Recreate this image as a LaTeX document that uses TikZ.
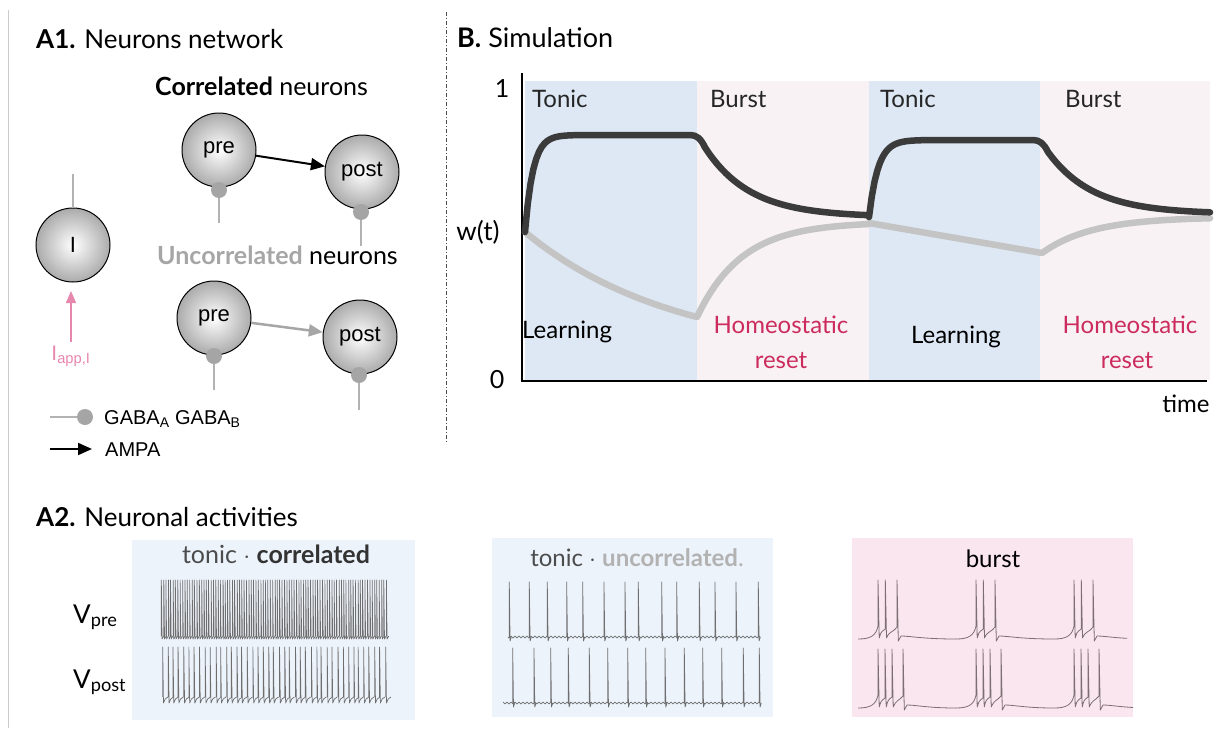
\documentclass[tikz,border=0pt]{standalone}
\usepackage{fontspec}
\setmainfont{Lato}
\newfontfamily\arial{Liberation Sans}
\usetikzlibrary{arrows.meta}
\definecolor{bandblue}{HTML}{DDE8F4}
\definecolor{bandpink}{HTML}{F8F2F4}
\definecolor{boxblue}{HTML}{EDF3FB}
\definecolor{boxpink}{HTML}{F9E6EE}
\definecolor{crimson}{HTML}{CC2B5E}
\definecolor{pinkarr}{HTML}{E687AD}
\definecolor{darkcurve}{HTML}{3B3B3B}
\definecolor{lightcurve}{HTML}{C4C4C4}
\definecolor{dotgray}{HTML}{A5A5A5}
\definecolor{tracegray}{HTML}{6E6E6E}
\definecolor{burstgray}{HTML}{7D6E73}
\newcommand\fsz[1]{\fontsize{#1}{#1}\selectfont}
\begin{document}
\begin{tikzpicture}[x=1pt,y=-1pt,
  neuron/.style={circle,draw=black,line width=1pt,minimum size=74pt,inner sep=0pt,
    shading=radial,inner color=white,outer color=black!33,font=\arial\fsz{22}},
  syndot/.style={circle,fill=dotgray,minimum size=16pt,inner sep=0pt},
  gline/.style={draw=black!30,line width=1.2pt},
  ampa/.style={line width=2pt,-{Triangle[length=14pt,width=12pt]}},
  ampagray/.style={draw=black!35,line width=2.5pt,-{Triangle[length=14pt,width=12pt]}},
  pinkarrow/.style={draw=pinkarr,line width=1.5pt,-{Triangle[length=12pt,width=10pt]}},
  lbl/.style={inner sep=0pt},
  trace/.style={draw=tracegray,line width=0.7pt,line join=round},
  btrace/.style={draw=burstgray,line width=0.8pt,line join=round},
  wcurve/.style={line width=6.5pt,line cap=round,line join=round}]
\useasboundingbox (0,0) rectangle (1218,731);
% separators
\draw[black!20,line width=1pt] (8,10) -- (8,728);
\draw[black!70,line width=0.8pt,dash pattern=on 4pt off 2pt on 1pt off 2pt] (446,12) -- (446,444);

% ---------- A1 ----------
\node[lbl,anchor=base west,font=\fsz{26}] (tA1) at (36,48) {\textbf{A1.} Neurons network};
\node[lbl,anchor=base west,font=\fsz{25}] (tcor) at (155,95) {\textbf{Correlated} neurons};
\node[lbl,anchor=base west,font=\fsz{25}] (tunc) at (157,264) {\textcolor{black!35}{\textbf{Uncorrelated}} neurons};

\node[neuron] (pre1) at (219,150) {pre};
\node[neuron] (post1) at (362,172) {post};
\draw[ampa] (pre1) -- (post1);
\node[syndot] (d1) at (219,190) {};
\coordinate (d1e) at (219,223);
\draw[gline] (d1) -- (d1e);
\node[syndot] (d2) at (361,212) {};
\coordinate (d2e) at (361,246);
\draw[gline] (d2) -- (d2e);

\node[neuron] (pre2) at (214,318) {pre};
\node[neuron] (post2) at (360,337) {post};
\draw[ampagray] (pre2) -- (post2);
\node[syndot] (d3) at (214,356) {};
\coordinate (d3e) at (214,390);
\draw[gline] (d3) -- (d3e);
\node[syndot] (d4) at (359,375) {};
\coordinate (d4e) at (359,410);
\draw[gline] (d4) -- (d4e);

\node[neuron] (I) at (73,245) {I};
\coordinate (Itop) at (73,174);
\draw[gline] (Itop) -- (I.north);
\node[lbl,anchor=base,font=\arial\fsz{21},text=pinkarr] (iapp) at (71,360) {I\textsubscript{app,I}};
\coordinate (iappb) at (71,342);
\coordinate (iappt) at (71,291);
\draw[pinkarrow] (iappb) -- (iappt);

% legend
\coordinate (lg1) at (50,417);
\node[syndot] (lgd) at (85,417) {};
\draw[gline] (lg1) -- (lgd);
\node[lbl,anchor=base west,font=\arial\fsz{20}] (lgt1) at (104,424) {GABA\textsubscript{A} GABA\textsubscript{B}};
\coordinate (lg2) at (50,449);
\coordinate (lg2e) at (92,449);
\draw[ampa] (lg2) -- (lg2e);
\node[lbl,anchor=base west,font=\arial\fsz{20}] (lgt2) at (105,456) {AMPA};

% ---------- B ----------
\node[lbl,anchor=base west,font=\fsz{27}] (tB) at (457,47) {\textbf{B.} Simulation};
\fill[bandblue] (525,81) rectangle (697,380);
\fill[bandpink] (697,81) rectangle (869,380);
\fill[bandblue] (869,81) rectangle (1040,380);
\fill[bandpink] (1040,81) rectangle (1210,380);
\draw[black,line width=1.8pt] (522,73) -- (522,381) -- (1207,381);
\node[lbl,anchor=base,font=\fsz{25}] (y1) at (502,97) {1};
\node[lbl,anchor=base,font=\fsz{25}] (y0) at (497,388) {0};
\node[lbl,anchor=base,font=\fsz{26}] (wt) at (478,240) {w(t)};
\node[lbl,anchor=base,font=\fsz{24}] (time) at (1186,412) {time};

% light curve
\draw[wcurve,lightcurve]
  plot[domain=525:697,samples=40] (\x,{232+124.6*(1-exp(-(\x-525)/150))})
  -- plot[domain=697:869,samples=40] (\x,{222+95*exp(-(\x-697)/45)})
  -- plot[domain=869:1042,samples=20] (\x,{223+30*((\x-869)/173)})
  -- plot[domain=1042:1210,samples=40] (\x,{217+36*exp(-(\x-1042)/50)});
% dark curve
\draw[wcurve,darkcurve]
  plot[domain=525:690,samples=60] (\x,{135+97*exp(-(\x-525)/8)})
  .. controls (697,135) and (701,139) .. (705,147.5)
  -- plot[domain=705:869,samples=40] (\x,{217-83*exp(-(\x-697)/45)})
  -- plot[domain=869:1033,samples=60] (\x,{140+77*exp(-(\x-869)/9)})
  .. controls (1040,140) and (1044,144) .. (1048,152)
  -- plot[domain=1048:1210,samples=40] (\x,{214-74*exp(-(\x-1040)/45)});

\node[lbl,anchor=base west,font=\fsz{24},text=black!85] (tn1) at (532,107) {Tonic};
\node[lbl,anchor=base west,font=\fsz{24},text=black!85] (bu1) at (710,107) {Burst};
\node[lbl,anchor=base west,font=\fsz{24},text=black!85] (tn2) at (880,107) {Tonic};
\node[lbl,anchor=base west,font=\fsz{24},text=black!85] (bu2) at (1065,107) {Burst};
\node[lbl,anchor=base west,font=\fsz{24}] (le1) at (522,338) {Learning};
\node[lbl,anchor=base,font=\fsz{24}] (le2) at (956,343) {Learning};
\node[lbl,anchor=base,font=\fsz{24},text=crimson] (ho1) at (781,333) {Homeostatic};
\node[lbl,anchor=base,font=\fsz{24},text=crimson] (re1) at (781,368) {reset};
\node[lbl,anchor=base,font=\fsz{24},text=crimson] (ho2) at (1130,333) {Homeostatic};
\node[lbl,anchor=base,font=\fsz{24},text=crimson] (re2) at (1127,368) {reset};

% ---------- A2 ----------
\node[lbl,anchor=base west,font=\fsz{26}] (tA2) at (36,526) {\textbf{A2.} Neuronal activities};
\fill[boxblue] (132,540) rectangle (415,720);
\fill[boxblue] (492,538) rectangle (773,717);
\fill[boxpink] (852,538) rectangle (1133,717);
\node[lbl,anchor=base,font=\fsz{25}] (bt1) at (276,563) {\textcolor{black!70}{tonic $\cdot$} \textcolor{black!80}{\textbf{correlated}}};
\node[lbl,anchor=base,font=\fsz{24}] (bt2) at (637,566) {\textcolor{black!70}{tonic $\cdot$} \textcolor{black!30}{\textbf{uncorrelated}.}};
\node[lbl,anchor=base,font=\fsz{24}] (bt3) at (993,567) {burst};
\node[lbl,anchor=base west,font=\fsz{26}] (vpre) at (73,623) {V\textsubscript{pre}};
\node[lbl,anchor=base west,font=\fsz{26}] (vpost) at (73,688) {V\textsubscript{post}};

% correlated tonic traces
\pgfmathsetseed{11}
\foreach \i [evaluate=\i as \xx using 161+\i*2.37+0.5*rnd] in {0,...,95}{
  \draw[trace] (\xx,636) -- (\xx,580) -- ({\xx+0.7},639) -- ({\xx+2.37},636);
}
\foreach \i [evaluate=\i as \xx using 162+\i*5.3+1.2*rnd] in {0,...,42}{
  \draw[trace] (\xx,697) -- (\xx,647) -- ({\xx+0.8},703) -- ({\xx+2.5},699) -- ({\xx+5.3},697);
}

% uncorrelated tonic traces
\draw[trace] plot[domain=508:760,samples=300] (\x,{637+1*sin(mod(\x,4)*90)});
\foreach \s in {509.3,529.3,547.3,566.7,582.7,604,625,638.3,661.7,676.7,699.3,715,736,758.3}{
  \draw[trace] (\s,637) -- (\s,582) -- ({\s+0.8},641) -- ({\s+2},637);
}
\draw[trace] plot[domain=503:760,samples=300] (\x,{703+1*sin(mod(\x,4)*90)});
\foreach \s in {512.7,534,550.7,568.3,589.3,607.7,627.7,645.7,665,684.3,702.7,721.7,743.3,759.3}{
  \draw[trace] (\s,703) -- (\s,648) -- ({\s+0.8},707) -- ({\s+2},703);
}

% burst traces
\begin{scope}
\clip (858,570) rectangle (1127,650);
\foreach \s in {878,976,1074}{
  \draw[btrace] ({\s-20},639) .. controls ({\s-8},639) and ({\s-2},636) .. (\s,626) -- (\s,580)
    -- ({\s+1.2},638) .. controls ({\s+3},632) .. ({\s+7.3},629) -- ({\s+7.3},580)
    -- ({\s+8.5},638) .. controls ({\s+11},631) and ({\s+16},632) .. ({\s+19},627) -- ({\s+19},580)
    -- ({\s+20.3},641) -- ({\s+23},636) .. controls ({\s+32},636) and ({\s+45},639) .. ({\s+78},639);
}
\end{scope}
\begin{scope}
\clip (858,640) rectangle (1133,715);
\foreach \s in {878,976,1074}{
  \draw[btrace] ({\s-20},708) .. controls ({\s-8},708) and ({\s-2},705) .. (\s,695) -- (\s,649)
    -- ({\s+1.2},707) .. controls ({\s+3},701) .. ({\s+7},698) -- ({\s+7},649)
    -- ({\s+8.2},707) .. controls ({\s+10},700) .. ({\s+14},697) -- ({\s+14},649)
    -- ({\s+15.2},707) .. controls ({\s+18},700) and ({\s+22},700) .. ({\s+25},696) -- ({\s+25},649)
    -- ({\s+26.3},710) -- ({\s+29},705) .. controls ({\s+38},705) and ({\s+50},708) .. ({\s+78},708);
}
\end{scope}
\end{tikzpicture}
\end{document}
